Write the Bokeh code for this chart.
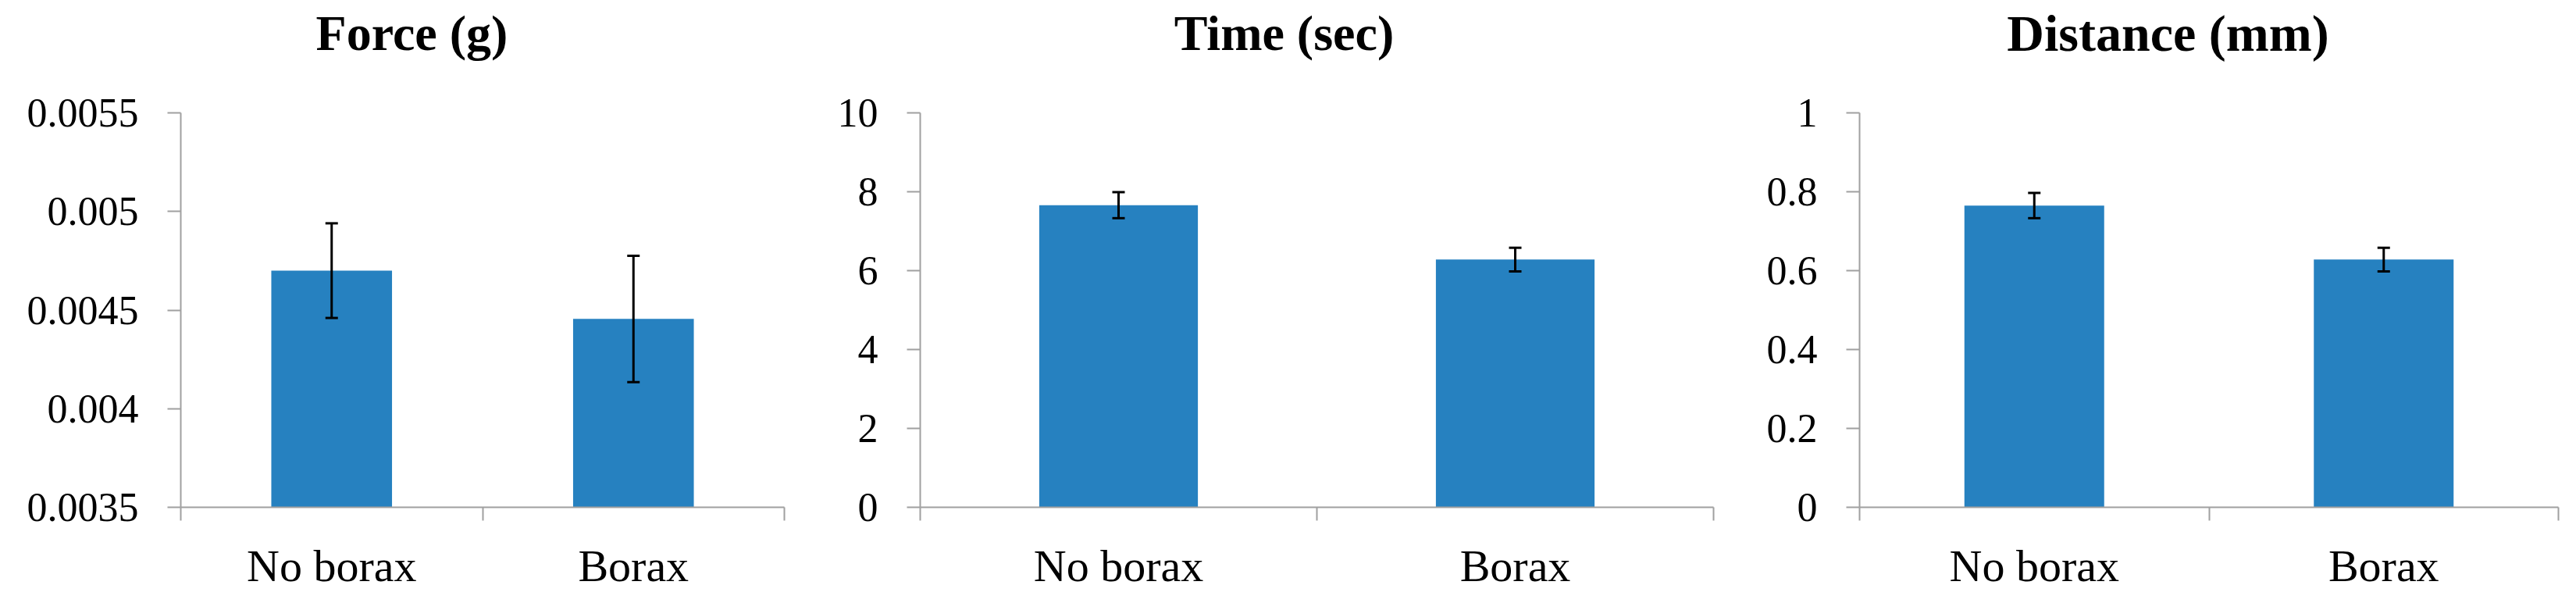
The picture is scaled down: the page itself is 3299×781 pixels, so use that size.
from bokeh.plotting import figure
from bokeh.models import Range1d, FixedTicker, Whisker, TeeHead, ColumnDataSource
from bokeh.core.properties import value
from bokeh.layouts import row, column
from bokeh.embed import file_html
from bokeh.resources import INLINE

# ---- data ----
categories = ["No borax", "Borax"]

force_title = "Force (g)"
force_mean = [0.00470, 0.004455]
force_err = [0.00024, 0.00032]
force_ticks = [0.0035, 0.004, 0.0045, 0.005, 0.0055]
force_tick_labels = ["0.0035", "0.004", "0.0045", "0.005", "0.0055"]

time_title = "Time (sec)"
time_mean = [7.66, 6.28]
time_err = [0.33, 0.30]
time_ticks = [0, 2, 4, 6, 8, 10]
time_tick_labels = ["0", "2", "4", "6", "8", "10"]

dist_title = "Distance (mm)"
dist_mean = [0.765, 0.628]
dist_err = [0.032, 0.030]
dist_ticks = [0, 0.2, 0.4, 0.6, 0.8, 1.0]
dist_tick_labels = ["0", "0.2", "0.4", "0.6", "0.8", "1"]

BAR = "#2681C0"
AX = "#a0a0a0"
FONT = "Liberation Serif"
TH = 100          # height of the title strip
TITLE_BASE = 42   # title baseline inside the strip (px from top)
H = 673           # height of the chart strip
BT = 44
BB = 124


def make_title(title, width, cx, size):
    t = figure(width=width, height=TH, x_range=Range1d(0, width), y_range=Range1d(TH, 0),
               output_backend="svg", toolbar_location=None,
               x_axis_type=None, y_axis_type=None,
               min_border=0, min_border_left=0, min_border_right=0,
               min_border_top=0, min_border_bottom=0)
    t.grid.visible = False
    t.outline_line_color = None
    t.text(x=[cx], y=[TITLE_BASE], text=[title], text_align="center", text_baseline="alphabetic",
           text_font=value(FONT), text_font_size=size, text_font_style="bold",
           text_color="black")
    return t


def make_panel(means, errs, yticks, ylabels, width, bl, br):
    n = len(categories)
    xs = [i + 0.5 for i in range(n)]
    src = ColumnDataSource(dict(
        x=xs, top=means,
        upper=[m + e for m, e in zip(means, errs)],
        lower=[m - e for m, e in zip(means, errs)],
    ))
    y0, y1 = yticks[0], yticks[-1]
    p = figure(width=width, height=H, x_range=Range1d(0, n), y_range=Range1d(y0, y1),
               output_backend="svg", toolbar_location=None,
               min_border_left=bl, min_border_right=br, min_border_top=BT, min_border_bottom=BB)
    p.vbar(x="x", top="top", bottom=y0, width=0.4, source=src, fill_color=BAR, line_color=None)
    w = Whisker(source=src, base="x", upper="upper", lower="lower",
                line_color="black", line_width=3, level="overlay",
                upper_head=TeeHead(size=16, line_color="black", line_width=3),
                lower_head=TeeHead(size=16, line_color="black", line_width=3))
    p.add_layout(w)

    p.grid.visible = False
    p.outline_line_color = None
    p.background_fill_color = "white"
    p.border_fill_color = "white"

    xa = p.xaxis[0]
    xa.ticker = FixedTicker(ticks=xs, minor_ticks=list(range(n + 1)))
    xa.major_label_overrides = {x: c for x, c in zip(xs, categories)}
    xa.major_tick_line_color = None
    xa.major_tick_out = 17
    xa.major_tick_in = 0
    xa.minor_tick_out = 17
    xa.minor_tick_in = 0
    xa.minor_tick_line_color = AX
    xa.minor_tick_line_width = 2
    xa.axis_line_color = AX
    xa.axis_line_width = 2
    xa.major_label_text_font = FONT
    xa.major_label_text_font_size = "58px"
    xa.major_label_text_color = "black"
    xa.major_label_standoff = 25

    ya = p.yaxis[0]
    ya.ticker = FixedTicker(ticks=yticks)
    ya.major_label_overrides = {t: l for t, l in zip(yticks, ylabels)}
    ya.major_tick_out = 17
    ya.major_tick_in = 0
    ya.minor_tick_line_color = None
    ya.major_tick_line_color = AX
    ya.major_tick_line_width = 2
    ya.axis_line_color = AX
    ya.axis_line_width = 2
    ya.major_label_text_font = FONT
    ya.major_label_text_font_size = "52px"
    ya.major_label_text_color = "black"
    ya.major_label_standoff = 37
    return p


W1, W2, W3 = 1060, 1190, 1041

t1 = make_title(force_title, W1, 527, "64px")
t2 = make_title(time_title, W2, 584, "64px")
t3 = make_title(dist_title, W3, 526, "66px")

p1 = make_panel(force_mean, force_err, force_ticks, force_tick_labels, W1, 231, 56)
p2 = make_panel(time_mean, time_err, time_ticks, time_tick_labels, W2, 118, 56)
p3 = make_panel(dist_mean, dist_err, dist_ticks, dist_tick_labels, W3, 131, 15)

layout = column(row(t1, t2, t3), row(p1, p2, p3))
open("out.html", "w").write(file_html(layout, INLINE))
